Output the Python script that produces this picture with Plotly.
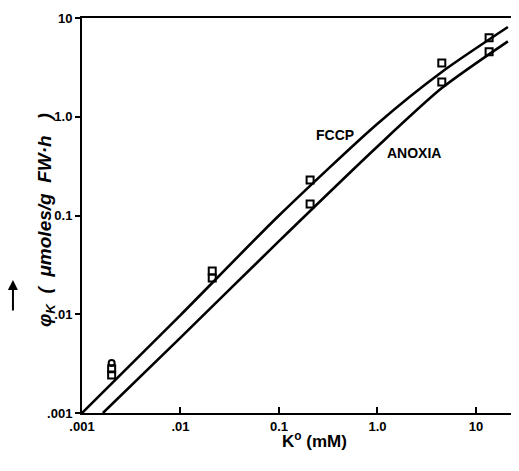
import plotly.graph_objects as go

# Fitted curves
fccp_curve_x = [0.001, 0.01, 0.1, 1.0, 4.5, 21.1]
fccp_curve_y = [0.001, 0.0098, 0.1, 0.85, 2.84, 8.1]
anoxia_curve_x = [0.00163, 0.01, 0.1, 1.0, 4.5, 21.1]
anoxia_curve_y = [0.001, 0.0058, 0.055, 0.5, 1.95, 5.8]

# Measured points
fccp_pts_x = [0.002, 0.021, 0.207, 4.5, 13.6]
fccp_pts_y = [0.0028, 0.0274, 0.229, 3.5, 6.3]
anoxia_pts_x = [0.002, 0.021, 0.207, 4.5, 13.6]
anoxia_pts_y = [0.00243, 0.0233, 0.131, 2.25, 4.55]
extra_pts_x = [0.002]
extra_pts_y = [0.0032]

tick_vals = [0.001, 0.01, 0.1, 1, 10]
x_tick_text = [".001", ".01", "0.1", "1.0", "10"]
y_tick_text = [".001", ".01", "0.1", "1.0", "10"]

fig = go.Figure()
line_style = dict(color="black", width=2.6, shape="spline", smoothing=0.7)
fig.add_trace(go.Scatter(x=fccp_curve_x, y=fccp_curve_y, mode="lines", line=line_style))
fig.add_trace(go.Scatter(x=anoxia_curve_x, y=anoxia_curve_y, mode="lines", line=line_style))
mk = dict(symbol="square-open", size=7, color="black", line=dict(width=2, color="black"))
fig.add_trace(go.Scatter(x=fccp_pts_x, y=fccp_pts_y, mode="markers", marker=mk))
fig.add_trace(go.Scatter(x=anoxia_pts_x, y=anoxia_pts_y, mode="markers", marker=mk))
fig.add_trace(go.Scatter(x=extra_pts_x, y=extra_pts_y, mode="markers",
                         marker=dict(symbol="circle-open", size=6, color="black",
                                     line=dict(width=2, color="black"))))

tickfont = dict(family="Liberation Sans, Arial, sans-serif", size=13, color="black", weight="bold")
fig.update_xaxes(type="log", range=[-3, 1.437], tickvals=tick_vals, ticktext=x_tick_text,
                 showgrid=False, zeroline=False, showline=True, linecolor="black", linewidth=2,
                 mirror=True, ticks="inside", ticklen=6, tickwidth=2, tickcolor="black",
                 tickfont=tickfont)
fig.update_yaxes(type="log", range=[-3, 1], tickvals=tick_vals, ticktext=y_tick_text,
                 showgrid=False, zeroline=False, showline=True, linecolor="black", linewidth=2,
                 ticks="outside", ticklen=5, tickwidth=2, tickcolor="black",
                 tickfont=tickfont)

labfont = dict(family="Liberation Sans, Arial, sans-serif", size=14, color="black", weight="bold")
fig.add_annotation(x=-0.431, y=-0.185, xref="x", yref="y", text="FCCP", showarrow=False, font=labfont)
fig.add_annotation(x=0.371, y=-0.367, xref="x", yref="y", text="ANOXIA", showarrow=False, font=labfont)
fig.add_annotation(x=0.531, y=-0.101, xref="paper", yref="paper",
                   text="K<sup>o</sup> (mM)", showarrow=False,
                   font=dict(family="Liberation Sans, Arial, sans-serif", size=17, color="black", weight="bold"))
fig.add_annotation(x=-0.114, y=0.489, xref="paper", yref="paper", textangle=-90,
                   text="<i>φ<sub>K</sub>  (  μmoles/g  FW·h   )</i>", showarrow=False,
                   font=dict(family="Liberation Sans, Arial, sans-serif", size=19, color="black", weight="bold"))
# arrow over phi (drawn as annotation arrow)
fig.add_annotation(x=-0.158, y=0.337, xref="paper", yref="paper", text="",
                   showarrow=True, ax=0, ay=32, arrowhead=2, arrowsize=1, arrowwidth=2,
                   arrowcolor="black")

# body has an 8px default margin: offset the figure so the plot area lands where it should
fig.update_layout(width=511, height=463, margin=dict(l=74, r=0, t=10, b=58),
                  paper_bgcolor="white", plot_bgcolor="white", showlegend=False)
fig.write_html("out.html")
